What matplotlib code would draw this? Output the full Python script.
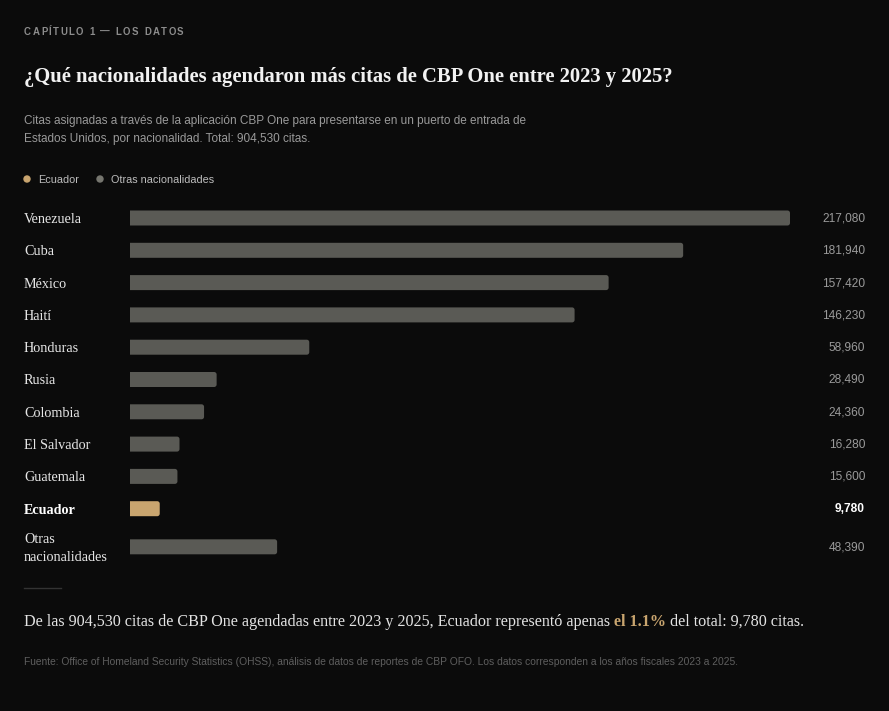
import matplotlib
matplotlib.use("Agg")
import matplotlib.pyplot as plt
from matplotlib.patches import PathPatch, Ellipse
from matplotlib.path import Path
from matplotlib.lines import Line2D
import numpy as np

# ---- data ----
countries = ["Venezuela", "Cuba", "México", "Haití", "Honduras", "Rusia",
             "Colombia", "El Salvador", "Guatemala", "Ecuador", "Otras\nnacionalidades"]
values = [217080, 181940, 157420, 146230, 58960, 28490, 24360, 16280, 15600, 9780, 48390]
value_labels = ["217,080", "181,940", "157,420", "146,230", "58,960", "28,490",
                "24,360", "16,280", "15,600", "9,780", "48,390"]
highlight = "Ecuador"

kicker = "CAPÍTULO 1 — LOS DATOS"
title = "¿Qué nacionalidades agendaron más citas de CBP One entre 2023 y 2025?"
subtitle = ["Citas asignadas a través de la aplicación CBP One para presentarse en un puerto de entrada de",
            "Estados Unidos, por nacionalidad. Total: 904,530 citas."]
legend_items = ["Ecuador", "Otras nacionalidades"]
summary_parts = [("De las 904,530 citas de CBP One agendadas entre 2023 y 2025, Ecuador representó apenas ", False),
                 ("el 1.1%", True),
                 (" del total: 9,780 citas.", False)]
source = ("Fuente: Office of Homeland Security Statistics (OHSS), análisis de datos de reportes de CBP OFO. "
          "Los datos corresponden a los años fiscales 2023 a 2025.")

# ---- style ----
BG = "#0b0b0b"
GREY_BAR = "#5a5a55"
GOLD = "#c9a56f"
W, H = 889, 711
SERIF = ["Liberation Serif", "DejaVu Serif"]
SANS = ["Liberation Sans", "DejaVu Sans"]

fig = plt.figure(figsize=(W / 100, H / 100), dpi=100, facecolor=BG)
renderer = fig.canvas.get_renderer()


def fx(px):
    return px / W


def fy(py):
    return 1 - py / H


def seq_text(x, y, parts, **common):
    cur = x
    for txt, kw in parts:
        t = fig.text(fx(cur), fy(y), txt, va="baseline", ha="left", **{**common, **kw})
        cur += t.get_window_extent(renderer).width
    return cur


def tracked_text(x, y, s, tracking, **kw):
    cur = x
    for ch in s:
        t = fig.text(fx(cur), fy(y), ch, va="baseline", ha="left", **kw)
        w = t.get_window_extent(renderer).width
        if ch == " ":
            w = kw.get("fontsize", 10) * 100 / 72 * 0.28
        cur += w + tracking


# kicker
tracked_text(24, 35, kicker, 1.5, fontsize=6.9, fontweight="bold", color="#8c8c8c", family=SANS)

# title
fig.text(fx(24), fy(82), title, fontsize=14.85, fontweight="bold", color="#f2f2f2",
         family=SERIF, va="baseline", ha="left")

# subtitle
for i, line in enumerate(subtitle):
    fig.text(fx(24), fy(124 + i * 18), line, fontsize=8.45, color="#9a9a9a",
             family=SANS, va="baseline", ha="left")

# legend
leg_x = [27, 100]
leg_cols = [GOLD, "#76766f"]
for lx, lab, c in zip(leg_x, legend_items, leg_cols):
    fig.add_artist(Ellipse((fx(lx), fy(179)), 6 / W, 6 / H, color=c, transform=fig.transFigure))
    fig.text(fx(lx + 11), fy(183), lab, fontsize=7.8, color="#bdbdbd", family=SANS,
             va="baseline", ha="left")

# ---- bars axes ----
row_px = 32.3
ax_top, ax_bot = 202, 565
ax = fig.add_axes([fx(130), fy(ax_bot), fx(790) - fx(130), (ax_bot - ax_top) / H])
ax.set_facecolor(BG)
ax.set_xlim(0, max(values))
y0 = -(218 - ax_top) / row_px
y1 = (ax_bot - 218) / row_px
ax.set_ylim(y1, y0)
ax.axis("off")

n = len(countries)
ypos = np.arange(n, dtype=float)
ypos[-1] += 0.18  # extra room for the two-line label

bar_h = 15 / row_px
x_per_px = max(values) / 660
y_per_px = 1 / row_px
r_px = 2.5


def bar_path(v, yc):
    rx = r_px * x_per_px
    ry = r_px * y_per_px
    top, bot = yc - bar_h / 2, yc + bar_h / 2
    k = 0.5523
    verts = [(0, top), (v - rx, top),
             (v - rx + k * rx, top), (v, top + ry - k * ry), (v, top + ry),
             (v, bot - ry),
             (v, bot - ry + k * ry), (v - rx + k * rx, bot), (v - rx, bot),
             (0, bot), (0, top)]
    codes = [Path.MOVETO, Path.LINETO,
             Path.CURVE4, Path.CURVE4, Path.CURVE4,
             Path.LINETO,
             Path.CURVE4, Path.CURVE4, Path.CURVE4,
             Path.LINETO, Path.CLOSEPOLY]
    return Path(verts, codes)


for yv, v, c in zip(ypos, values, countries):
    col = GOLD if c == highlight else GREY_BAR
    ax.add_patch(PathPatch(bar_path(v, yv), facecolor=col, edgecolor="none"))

# labels
for yv, c, lab in zip(ypos, countries, value_labels):
    py = ax_top + (yv - y0) * row_px
    is_h = c == highlight
    fig.text(fx(24), fy(py + 1.5), c, fontsize=10.2, color="#ffffff" if is_h else "#e6e6e6",
             fontweight="bold" if is_h else "normal", family=SERIF, va="center", ha="left",
             linespacing=1.5)
    fig.text(fx(865), fy(py + 0.5), lab, fontsize=8.6, color="#ffffff" if is_h else "#9a9a9a",
             fontweight="bold" if is_h else "normal", family=SANS, va="center", ha="right")

# separator
fig.add_artist(Line2D([fx(24), fx(61)], [fy(588), fy(588)],
                      color="#333333", lw=1, transform=fig.transFigure))

# summary
seq_text(24, 626, [(txt, {"color": GOLD, "fontweight": "bold"} if b else {"color": "#e4e4e4"})
                   for txt, b in summary_parts], fontsize=11.64, family=SERIF)

# source
fig.text(fx(24), fy(665), source, fontsize=7.38, color="#5e5e5e", family=SANS,
         va="baseline", ha="left")

fig.savefig("out.png", dpi=100, facecolor=BG)
